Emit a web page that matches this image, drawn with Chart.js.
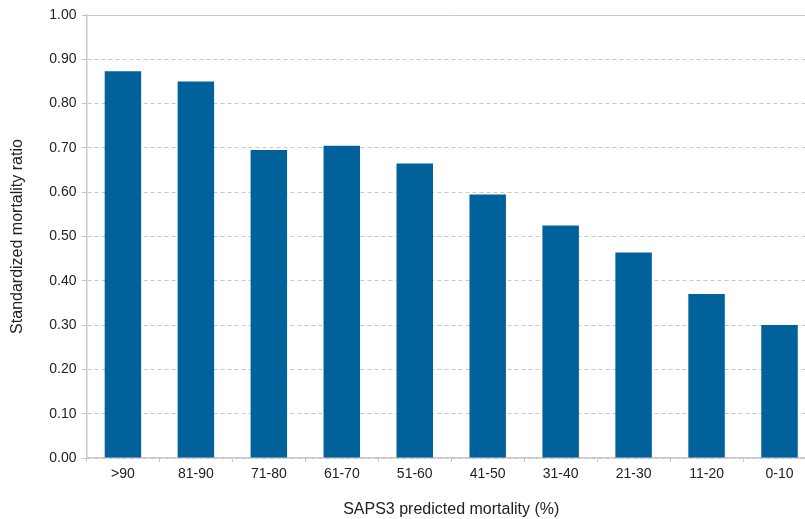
<!DOCTYPE html>
<html>
<head>
<meta charset="utf-8">
<script src="https://cdn.jsdelivr.net/npm/chart.js@4.4.1/dist/chart.umd.min.js"></script>
<style>
  html, body { margin: 0; padding: 0; background: #fff; overflow: hidden; }
  #wrap { position: relative; width: 817px; height: 519px; }
</style>
</head>
<body>
<div id="wrap"><canvas id="smr"></canvas></div>
<script>
const categories = ['>90', '81-90', '71-80', '61-70', '51-60', '41-50', '31-40', '21-30', '11-20', '0-10'];
const smrValues = [0.873, 0.850, 0.695, 0.705, 0.665, 0.595, 0.525, 0.464, 0.370, 0.300];
const yTitle = 'Standardized mortality ratio';
const xTitle = 'SAPS3 predicted mortality (%)';

const fontFamily = 'Helvetica, Arial, "Liberation Sans", sans-serif';
const textColor = '#222';
const lineGray = '#c8c8c8';

new Chart(document.getElementById('smr'), {
  type: 'bar',
  data: {
    labels: categories,
    datasets: [{
      data: smrValues,
      backgroundColor: '#01619b',
      borderWidth: 0,
      barPercentage: 0.5,
      categoryPercentage: 1.0
    }]
  },
  options: {
    responsive: true,
    maintainAspectRatio: false,
    animation: false,
    layout: { padding: { top: 15, right: 1, bottom: 0, left: 0 } },
    plugins: {
      legend: { display: false },
      tooltip: { enabled: false }
    },
    scales: {
      x: {
        offset: true,
        grid: {
          offset: true,
          drawOnChartArea: false,
          drawTicks: true,
          tickLength: 4,
          color: lineGray
        },
        border: { display: true, color: lineGray, width: 1.5 },
        ticks: {
          color: textColor,
          padding: 4,
          maxRotation: 0,
          font: { family: fontFamily, size: 14 }
        },
        title: {
          display: true,
          text: xTitle,
          color: textColor,
          padding: { top: 13, bottom: 0 },
          font: { family: fontFamily, size: 16 }
        }
      },
      y: {
        min: 0,
        max: 1,
        grid: {
          color: lineGray,
          lineWidth: 1,
          tickLength: 5
        },
        border: {
          display: true,
          color: lineGray,
          width: 1.5,
          dash: ctx => (ctx.tick && ctx.tick.value === 1 ? [] : [4, 3])
        },
        ticks: {
          stepSize: 0.1,
          color: textColor,
          padding: 5,
          font: { family: fontFamily, size: 14 },
          callback: v => Number(v).toFixed(2)
        },
        title: {
          display: true,
          text: yTitle,
          color: textColor,
          padding: { top: 8, bottom: 17 },
          font: { family: fontFamily, size: 16 }
        }
      }
    }
  }
});
</script>
</body>
</html>
